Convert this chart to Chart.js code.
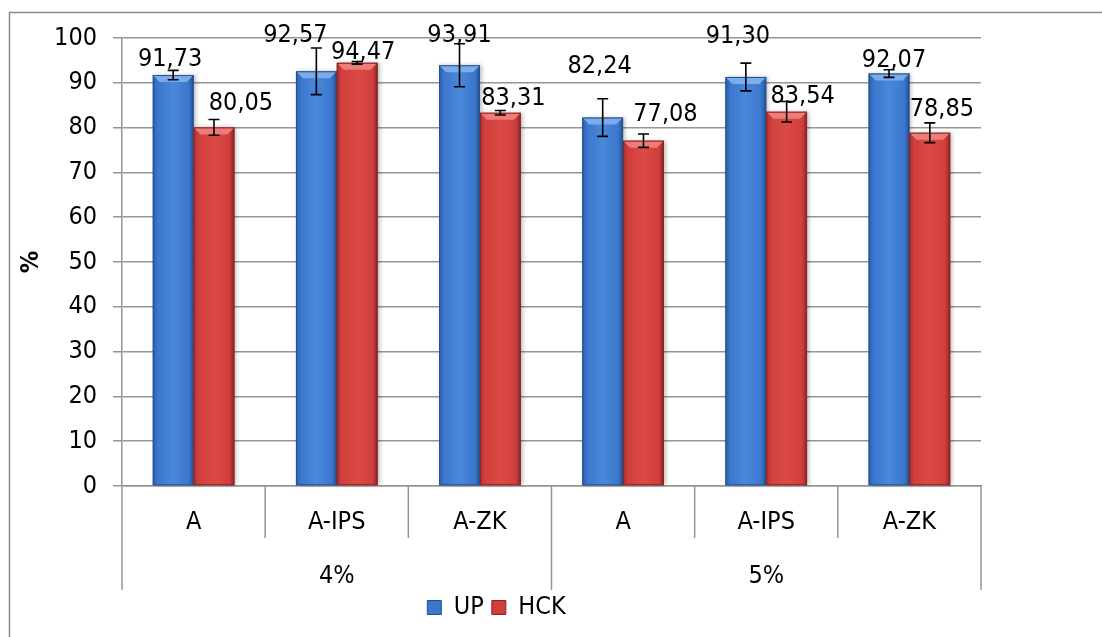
<!DOCTYPE html>
<html>
<head>
<meta charset="utf-8">
<script src="https://cdn.jsdelivr.net/npm/chart.js@4.4.1/dist/chart.umd.min.js"></script>
<style>
  html, body { margin: 0; padding: 0; background: #fff; }
  #wrap { width: 1102px; height: 637px; }
</style>
</head>
<body>
<div id="wrap"><canvas id="chart"></canvas></div>
<script>
// data
const categories = ['A', 'A-IPS', 'A-ZK', 'A', 'A-IPS', 'A-ZK'];
const groups = ['4%', '5%'];
const groupSize = 3;
const upValues = [91.73, 92.57, 93.91, 82.24, 91.30, 92.07];
const hckValues = [80.05, 94.47, 83.31, 77.08, 83.54, 78.85];
const upErrors = [1.05, 5.2, 4.8, 4.2, 3.1, 0.85];
const hckErrors = [1.75, 0.3, 0.5, 1.5, 2.3, 2.2];

// label placement (the labels were dragged by hand in the original)
const upLabelDx = [-3, -21, 0, -3, -8, 5];
const upLabelLift = [9, 29, 23, 45, 34, 7];
const hckLabelDx = [27, 6, 13, 22, 16, 12];
const hckLabelLift = [17, 4, 8, 20, 9, 17];

const FONT = "'DejaVu Sans Condensed', 'DejaVu Sans', sans-serif";
const FSIZE = 25;
const gridColor = '#959595';

const palettes = [
  { main: '#3b77cc', light: '#4a88dc', edge: '#2c5ea8', dark: '#244f8f', bevel: '#7cadea' },
  { main: '#d13f3c', light: '#dc4a46', edge: '#a83130', dark: '#862424', bevel: '#ee7c78' }
];
const errorSets = [upErrors, hckErrors];
const labelDx = [upLabelDx, hckLabelDx];
const labelLift = [upLabelLift, hckLabelLift];

function fmt(v) {
  return v.toFixed(2).replace('.', ',');
}

function paintBar(ctx, el, pal) {
  const x0 = el.x - el.width / 2, x1 = el.x + el.width / 2;
  const top = el.y, bot = el.base;
  ctx.save();
  ctx.shadowColor = 'rgba(0,0,0,0.25)';
  ctx.shadowBlur = 4;
  ctx.shadowOffsetX = 2;
  const g = ctx.createLinearGradient(x0, 0, x1, 0);
  g.addColorStop(0, pal.edge);
  g.addColorStop(0.12, pal.main);
  g.addColorStop(0.5, pal.light);
  g.addColorStop(0.88, pal.main);
  g.addColorStop(1, pal.dark);
  ctx.fillStyle = g;
  ctx.fillRect(x0, top, x1 - x0, bot - top);
  ctx.restore();
  // top bevel
  const d = 7;
  ctx.fillStyle = pal.bevel;
  ctx.beginPath();
  ctx.moveTo(x0, top);
  ctx.lineTo(x1, top);
  ctx.lineTo(x1 - d, top + d);
  ctx.lineTo(x0 + d, top + d);
  ctx.closePath();
  ctx.fill();
  ctx.strokeStyle = pal.dark;
  ctx.lineWidth = 1;
  ctx.strokeRect(x0 + 0.5, top + 0.5, x1 - x0 - 1, bot - top - 1);
}

const barDecor = {
  id: 'barDecor',
  beforeDraw(chart) {
    const c = chart.ctx;
    c.save();
    c.fillStyle = '#fff';
    c.fillRect(0, 0, chart.width, chart.height);
    c.strokeStyle = '#8a8a8a';
    c.lineWidth = 1.5;
    c.strokeRect(9.5, 12.5, chart.width + 20, chart.height + 20);
    c.restore();
  },
  afterDatasetsDraw(chart) {
    const c = chart.ctx;
    const y = chart.scales.y;
    c.save();
    chart.data.datasets.forEach((ds, di) => {
      chart.getDatasetMeta(di).data.forEach(el => paintBar(c, el, palettes[di]));
    });
    // error bars
    c.strokeStyle = '#000';
    c.lineWidth = 1.6;
    chart.data.datasets.forEach((ds, di) => {
      chart.getDatasetMeta(di).data.forEach((el, i) => {
        const v = ds.data[i], e = errorSets[di][i];
        const yt = y.getPixelForValue(v + e), yb = y.getPixelForValue(v - e);
        c.beginPath();
        c.moveTo(el.x, yt); c.lineTo(el.x, yb);
        c.moveTo(el.x - 5.5, yt); c.lineTo(el.x + 5.5, yt);
        c.moveTo(el.x - 5.5, yb); c.lineTo(el.x + 5.5, yb);
        c.stroke();
      });
    });
    // value labels
    c.fillStyle = '#000';
    c.font = FSIZE + 'px ' + FONT;
    c.textAlign = 'center';
    c.textBaseline = 'alphabetic';
    chart.data.datasets.forEach((ds, di) => {
      chart.getDatasetMeta(di).data.forEach((el, i) => {
        c.fillText(fmt(ds.data[i]), el.x + labelDx[di][i], el.y - labelLift[di][i]);
      });
    });
    c.restore();
  },
  afterDraw(chart) {
    const c = chart.ctx;
    const x = chart.scales.x;
    const axisY = chart.chartArea.bottom;
    const step = x.getPixelForValue(1) - x.getPixelForValue(0);
    c.save();
    c.strokeStyle = gridColor;
    c.lineWidth = 1.5;
    for (let i = 0; i <= categories.length; i++) {
      const bx = x.getPixelForValue(0) - step / 2 + i * step;
      const outer = i % groupSize === 0;
      c.beginPath();
      c.moveTo(bx, axisY);
      c.lineTo(bx, axisY + (outer ? 104 : 52));
      c.stroke();
    }
    c.fillStyle = '#000';
    c.font = FSIZE + 'px ' + FONT;
    c.textAlign = 'center';
    c.textBaseline = 'middle';
    groups.forEach((g, gi) => {
      const first = gi * groupSize, last = first + groupSize - 1;
      const cx = (x.getPixelForValue(first) + x.getPixelForValue(last)) / 2;
      c.fillText(g, cx, axisY + 90);
    });
    c.restore();
  }
};

new Chart(document.getElementById('chart'), {
  type: 'bar',
  data: {
    labels: categories,
    datasets: [
      { label: 'UP', data: upValues, backgroundColor: palettes[0].main, borderColor: palettes[0].dark, borderWidth: 1 },
      { label: 'HCK', data: hckValues, backgroundColor: palettes[1].main, borderColor: palettes[1].dark, borderWidth: 1 }
    ]
  },
  options: {
    responsive: true,
    maintainAspectRatio: false,
    animation: false,
    devicePixelRatio: 1,
    layout: { padding: { left: 12, right: 121, top: 38, bottom: 7 } },
    datasets: { bar: { categoryPercentage: 0.57, barPercentage: 1.0 } },
    scales: {
      x: {
        grid: { display: false, drawTicks: false },
        border: { display: true, color: gridColor, width: 1.5 },
        ticks: { color: '#000', font: { family: FONT, size: FSIZE }, padding: 21, maxRotation: 0, autoSkip: false },
        afterFit(s) { s.height = 101; }
      },
      y: {
        min: 0,
        max: 100,
        ticks: { stepSize: 10, color: '#000', font: { family: FONT, size: FSIZE }, padding: 16 },
        grid: { color: gridColor, lineWidth: 1.5, tickLength: 9 },
        border: { color: gridColor, width: 1.5 },
        title: { display: true, text: '%', color: '#000', font: { family: FONT, size: FSIZE, weight: 'bold' }, padding: { top: 4, bottom: 0 } },
        afterFit(s) { s.width = 110; }
      }
    },
    plugins: {
      legend: {
        position: 'bottom',
        labels: { color: '#000', font: { family: FONT, size: FSIZE }, boxWidth: 14, boxHeight: 14, padding: 8 }
      },
      tooltip: { enabled: false }
    }
  },
  plugins: [barDecor]
});
</script>
</body>
</html>
